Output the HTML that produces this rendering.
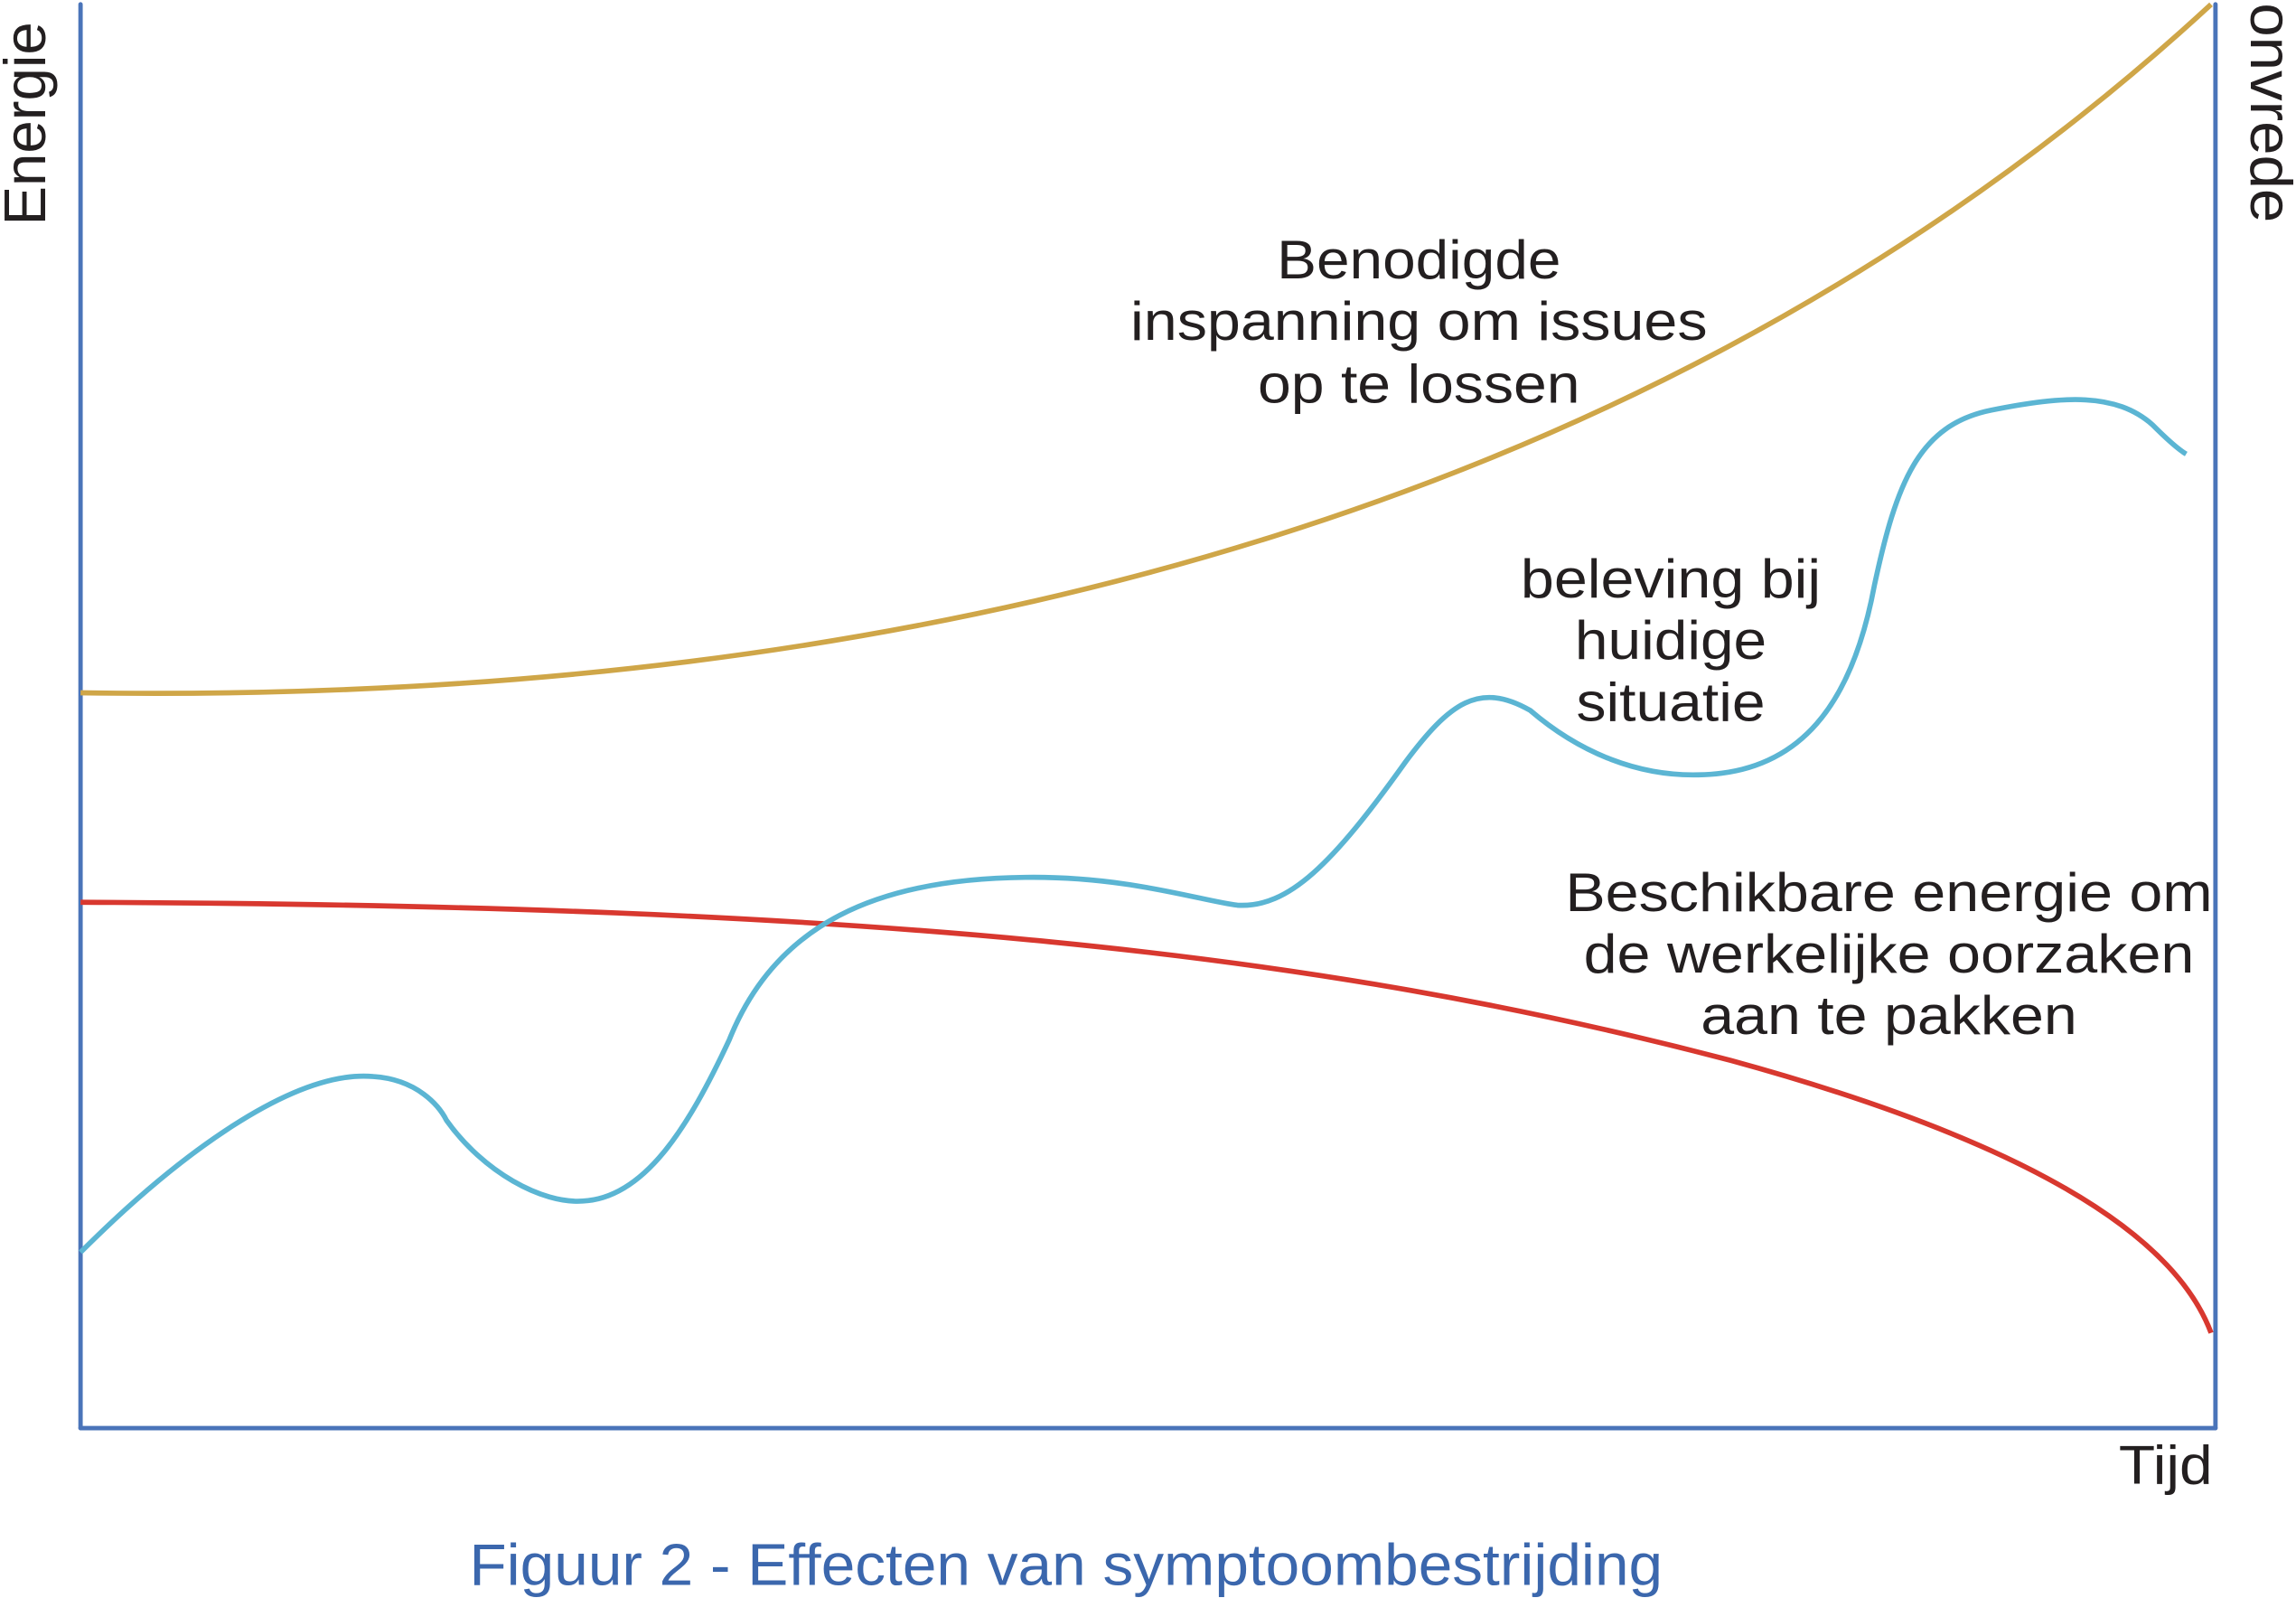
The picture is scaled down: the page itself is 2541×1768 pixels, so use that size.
<!DOCTYPE html>
<html><head><meta charset="utf-8"><style>
html,body{margin:0;padding:0;background:#fff;}
svg{display:block;}
text{font-family:"Liberation Sans",sans-serif;fill:#231f20;}
</style></head><body>
<svg width="2541" height="1768" viewBox="0 0 1568 1091" preserveAspectRatio="none" xmlns="http://www.w3.org/2000/svg">
<rect width="1568" height="1091" fill="#fff"/>
<g stroke="#4a74b9" stroke-width="3" fill="none" stroke-linecap="round">
<line x1="55" y1="3" x2="55" y2="975"/>
<line x1="55" y1="975" x2="1513" y2="975"/>
<line x1="1513" y1="3" x2="1513" y2="975"/>
</g>
<path d="M55,473 C650,482 1150,335 1510,3" stroke="#cfa648" stroke-width="3.5" fill="none"/>
<path d="M55,616 C600,618 900,650 1182,724 C1350,770 1480,830 1510,910" stroke="#d8382f" stroke-width="3.5" fill="none"/>
<path d="M55,855 C120,790 200,730 255,735 C285,737 300,755 305,765 C330,800 370,822 398,820 C440,818 470,770 498,710 C530,630 600,600 700,599 C770,598 820,615 845,618 C880,620 910,590 960,520 C990,480 1010,465 1045,485 C1080,515 1120,530 1160,529 C1230,528 1265,480 1280,400 C1295,330 1310,290 1360,280 C1410,270 1445,268 1470,290 C1480,300 1488,307 1493,310" stroke="#5bb5d3" stroke-width="3.5" fill="none"/>
<text transform="translate(31,154) rotate(-90)" font-size="40" textLength="139" lengthAdjust="spacingAndGlyphs">Energie</text>
<text transform="translate(1537,2) rotate(90)" font-size="40" textLength="150" lengthAdjust="spacingAndGlyphs">onvrede</text>
<g font-size="37" text-anchor="middle">
<text x="969" y="190" textLength="194" lengthAdjust="spacingAndGlyphs">Benodigde</text>
<text x="969" y="232" textLength="394" lengthAdjust="spacingAndGlyphs">inspanning om issues</text>
<text x="969" y="275" textLength="220" lengthAdjust="spacingAndGlyphs">op te lossen</text>
<text x="1141" y="408" textLength="205" lengthAdjust="spacingAndGlyphs">beleving bij</text>
<text x="1141" y="450" textLength="131" lengthAdjust="spacingAndGlyphs">huidige</text>
<text x="1141" y="492" textLength="129" lengthAdjust="spacingAndGlyphs">situatie</text>
<text x="1290" y="622" textLength="442" lengthAdjust="spacingAndGlyphs">Beschikbare energie om</text>
<text x="1290" y="664" textLength="417" lengthAdjust="spacingAndGlyphs">de werkelijke oorzaken</text>
<text x="1290" y="706" textLength="257" lengthAdjust="spacingAndGlyphs">aan te pakken</text>
<text x="1479" y="1013" textLength="64" lengthAdjust="spacingAndGlyphs">Tijd</text>
</g>
<text x="728" y="1082" font-size="40" text-anchor="middle" textLength="815" lengthAdjust="spacingAndGlyphs" style="fill:#3b67ad">Figuur 2 - Effecten van symptoombestrijding</text>
</svg>
</body></html>
